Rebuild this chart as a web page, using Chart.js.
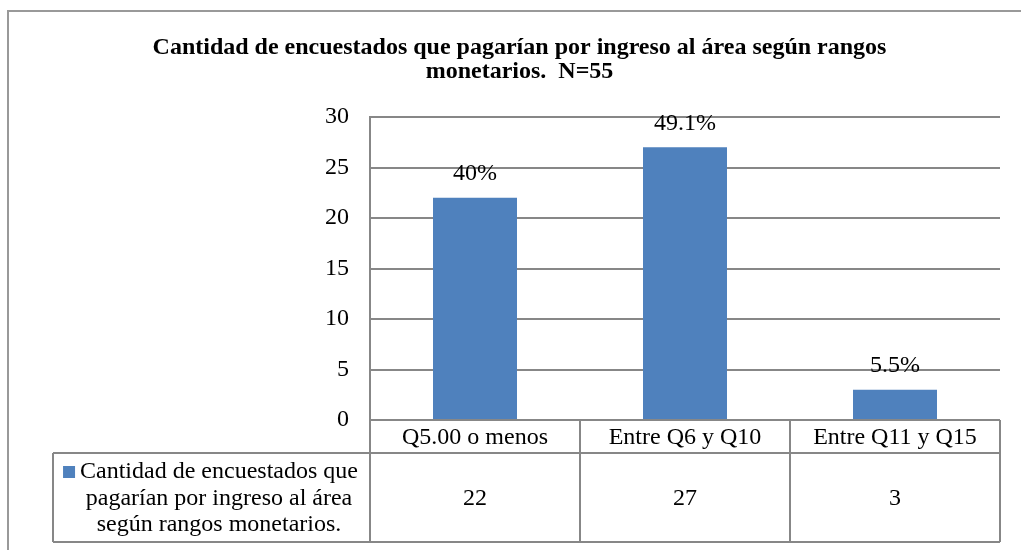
<!DOCTYPE html>
<html>
<head>
<meta charset="utf-8">
<script src="https://cdn.jsdelivr.net/npm/chart.js@4/dist/chart.umd.min.js"></script>
<style>
  html, body { margin: 0; padding: 0; background: #fff; }
  #wrap { width: 1021px; height: 550px; position: relative; }
</style>
</head>
<body>
<div id="wrap"><canvas id="grafico"></canvas></div>
<script>
// Datos
const categorias = ['Q5.00 o menos', 'Entre Q6 y Q10', 'Entre Q11 y Q15'];
const valores = [22, 27, 3];
const porcentajes = ['40%', '49.1%', '5.5%'];
const serieNombre = ['Cantidad de encuestados que', 'pagarían por ingreso al área', 'según rangos monetarios.'];
const titulo = ['Cantidad de encuestados que pagarían por ingreso al área según rangos', 'monetarios.  N=55'];

const AZUL = '#4F81BD';
const GRIS = '#878787';
const FUENTE = '"Liberation Serif", "Times New Roman", serif';

// Marco exterior
const marcoPlugin = {
  id: 'marco',
  beforeDraw(chart) {
    const ctx = chart.ctx;
    ctx.save();
    ctx.strokeStyle = '#999';
    ctx.lineWidth = 2;
    ctx.beginPath();
    ctx.moveTo(8, 550);
    ctx.lineTo(8, 11);
    ctx.lineTo(1021, 11);
    ctx.stroke();
    ctx.restore();
  }
};

// Etiquetas de porcentaje sobre las barras
const etiquetasPlugin = {
  id: 'etiquetas',
  afterDatasetsDraw(chart) {
    const ctx = chart.ctx;
    const meta = chart.getDatasetMeta(0);
    ctx.save();
    ctx.font = '24px ' + FUENTE;
    ctx.fillStyle = '#000';
    ctx.textAlign = 'center';
    ctx.textBaseline = 'middle';
    meta.data.forEach((barra, i) => {
      ctx.fillText(porcentajes[i], barra.x, barra.y - 24);
    });
    ctx.restore();
  }
};

// Tabla de datos debajo del eje
const tablaPlugin = {
  id: 'tabla',
  afterDraw(chart) {
    const ctx = chart.ctx;
    const area = chart.chartArea;
    const x = chart.scales.x;
    const ancho = (area.right - area.left) / categorias.length;
    const fila1 = area.bottom;
    const fila2 = fila1 + 33;
    const fin = fila2 + 89;
    const izq = 53;

    ctx.save();
    ctx.strokeStyle = GRIS;
    ctx.lineWidth = 2;
    ctx.beginPath();
    // lineas horizontales
    ctx.moveTo(area.left, fila1); ctx.lineTo(area.right, fila1);
    ctx.moveTo(izq, fila2); ctx.lineTo(area.right, fila2);
    ctx.moveTo(izq, fin); ctx.lineTo(area.right, fin);
    // lineas verticales
    ctx.moveTo(izq, fila2); ctx.lineTo(izq, fin);
    for (let i = 0; i <= categorias.length; i++) {
      const xx = area.left + i * ancho;
      ctx.moveTo(xx, fila1); ctx.lineTo(xx, fin);
    }
    ctx.stroke();

    ctx.fillStyle = '#000';
    ctx.font = '24px ' + FUENTE;
    ctx.textAlign = 'center';
    ctx.textBaseline = 'middle';
    categorias.forEach((c, i) => {
      const cx = x.getPixelForValue(i);
      ctx.fillText(c, cx, (fila1 + fila2) / 2 + 1);
      ctx.fillText(String(valores[i]), cx, (fila2 + fin) / 2 + 1);
    });

    // leyenda de la serie
    const centro = 219;
    serieNombre.forEach((t, j) => {
      ctx.fillText(t, centro, fila2 + 19 + j * 26.5);
    });
    const w1 = ctx.measureText(serieNombre[0]).width;
    ctx.fillStyle = AZUL;
    ctx.fillRect(centro - w1 / 2 - 17, fila2 + 13, 12, 12);
    ctx.restore();
  }
};

const ctx = document.getElementById('grafico').getContext('2d');
new Chart(ctx, {
  type: 'bar',
  data: {
    labels: categorias,
    datasets: [{
      label: serieNombre.join(' '),
      data: valores,
      backgroundColor: AZUL,
      categoryPercentage: 0.8,
      barPercentage: 0.5
    }]
  },
  options: {
    responsive: true,
    maintainAspectRatio: false,
    animation: false,
    layout: { padding: { left: 39, right: 21, top: 0, bottom: 130 } },
    plugins: {
      legend: { display: false },
      tooltip: { enabled: false },
      title: {
        display: true,
        text: titulo,
        color: '#000',
        font: { family: FUENTE, size: 24, weight: 'bold', lineHeight: 1.0 },
        padding: { top: 36, bottom: 33 }
      }
    },
    scales: {
      x: { display: false },
      y: {
        min: 0,
        max: 30,
        ticks: {
          stepSize: 5,
          color: '#000',
          padding: 21,
          font: { family: FUENTE, size: 24 }
        },
        grid: { color: GRIS, lineWidth: 2, drawTicks: false },
        border: { display: true, color: GRIS, width: 2 },
        afterFit(scale) { scale.width = 331; }
      }
    }
  },
  plugins: [marcoPlugin, etiquetasPlugin, tablaPlugin]
});
</script>
</body>
</html>
